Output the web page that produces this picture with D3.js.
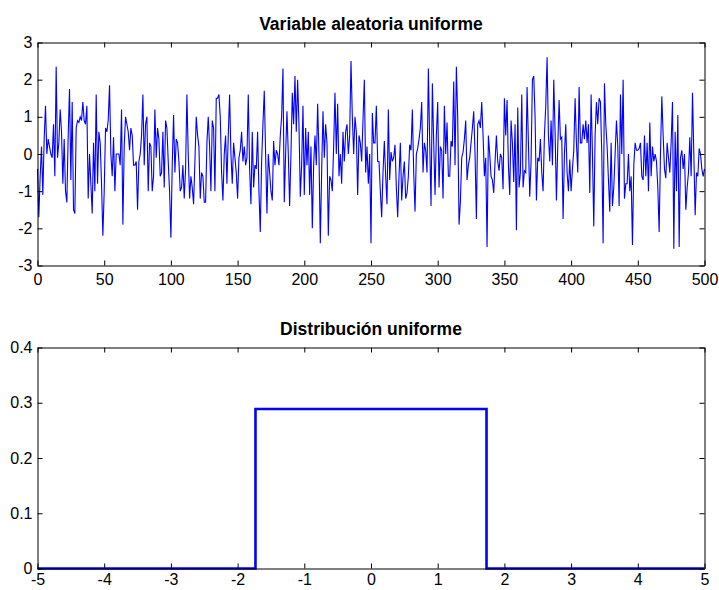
<!DOCTYPE html>
<html>
<head>
<meta charset="utf-8">
<script src="https://cdn.jsdelivr.net/npm/d3@7"></script>
<style>
  html, body { margin: 0; padding: 0; background: #fff; }
  svg { display: block; }
  text { font-family: "Liberation Sans", Arial, Helvetica, sans-serif; }
</style>
</head>
<body>
<svg id="chart" width="719" height="590"></svg>
<script>
// Samples of the uniform random variable (index 0..500)
const noise = [
-0.4,-1.7,-0.6,0.2,-1.1,0.4,1.3,0.0,0.4,0.2,0.0,-0.1,0.8,-0.6,2.35,-0.1,0.3,1.2,0.6,-0.8,
0.4,-1.0,-1.3,0.5,1.75,-0.7,1.4,-1.5,-1.6,0.7,0.9,0.85,1.0,0.9,1.4,0.9,0.8,1.3,-1.2,0.0,
-0.8,-1.6,0.3,-1.0,1.6,-0.8,0.6,0.3,-0.8,-2.2,-1.0,0.7,0.6,0.9,1.85,0.0,-0.6,0.45,-1.0,0.0,
0.0,0.0,-0.3,1.2,-1.9,0.2,1.0,0.8,0.6,0.1,0.7,0.5,-0.3,-0.3,-0.2,-1.5,-0.2,0.0,0.5,1.6,
-0.3,0.8,1.0,-1.0,0.3,0.2,-1.0,-0.6,1.2,-0.1,0.7,0.4,-0.6,-0.5,0.6,-0.9,0.9,0.7,-0.2,-1.0,
-2.25,-0.3,1.05,-0.5,0.4,0.3,-0.2,-1.0,-0.9,-0.3,-1.2,-0.4,1.6,0.0,-1.2,-0.6,-0.9,-1.35,-0.2,1.0,
0.5,0.2,-1.2,-0.5,-0.6,-1.3,-1.3,0.3,1.0,0.2,-1.0,0.9,0.7,-1.0,1.5,1.5,1.6,1.0,-0.5,-1.25,
0.0,0.5,-0.8,0.5,1.6,0.0,-0.8,0.3,-0.1,-0.5,-1.2,-0.1,0.1,0.6,-0.2,0.2,-0.3,-0.1,1.6,-0.4,
-1.35,0.6,-0.9,-0.3,-0.4,0.6,-1.0,-2.1,-0.2,0.8,1.7,0.0,-1.6,0.0,-0.5,-1.0,-1.25,0.35,-0.3,0.1,
0.0,-0.3,0.5,1.0,2.3,-1.3,0.0,1.15,0.0,-1.4,0.0,1.65,0.8,2.1,0.6,2.0,0.8,-1.15,-0.3,1.3,
-1.1,0.7,-0.3,0.6,-1.1,0.2,-2.0,-0.3,0.5,-0.3,1.35,0.0,-2.4,-0.5,1.15,-0.1,0.8,0.3,-2.2,-0.6,
-0.7,-1.0,0.2,1.65,0.0,1.35,-0.6,0.0,-0.8,0.6,-0.2,0.6,0.8,0.0,0.5,2.5,1.0,0.0,1.0,0.6,
-1.1,0.5,0.3,-0.2,0.9,2.0,-0.5,0.2,-0.8,0.0,-2.4,1.1,0.3,0.3,1.3,-0.2,-0.2,-1.0,-1.7,-0.5,
0.35,-0.6,-1.35,1.2,-0.7,0.05,-0.2,-0.1,0.25,-0.9,-1.7,-0.6,0.3,-1.25,-0.6,-0.2,-1.2,-1.05,-0.6,0.25,
0.1,1.2,-0.5,-1.55,0.0,0.15,0.4,0.7,1.4,-0.5,0.3,0.1,-0.5,2.3,0.3,-1.4,1.9,0.3,-1.1,0.5,
1.4,-0.9,0.2,0.1,-1.2,1.3,0.0,0.85,-0.6,-0.6,0.35,0.2,1.95,-0.3,2.35,1.0,-1.9,-1.3,-0.1,0.05,
0.4,0.9,-0.7,-0.3,-0.1,0.3,0.7,1.15,0.0,-1.75,0.8,0.9,0.7,1.4,0.5,-0.6,-0.1,-2.5,0.5,0.0,
-0.6,-0.7,-1.05,-0.2,0.5,-0.2,-0.45,0.0,-0.1,-0.95,1.5,0.5,1.45,-0.3,-1.1,0.9,0.3,-0.75,0.8,-2.05,
1.25,-0.9,-0.5,1.6,-0.9,-0.45,-0.5,1.8,0.3,-1.15,-0.2,2.0,2.1,1.0,-1.25,-0.1,-0.2,0.4,-0.5,-1.0,
0.5,1.3,2.6,0.5,-0.2,0.9,-0.3,2.0,0.6,-1.25,0.2,1.45,0.4,0.45,-1.75,0.0,0.8,-0.5,-1.0,-0.15,
-1.0,-0.4,0.1,1.5,0.3,-0.5,1.8,0.3,0.3,0.8,0.4,0.9,0.3,0.8,-1.05,1.6,0.0,-1.95,0.5,1.4,
0.8,1.5,1.4,0.0,-2.4,1.9,0.8,0.2,-0.7,-1.55,0.3,-1.4,-0.9,0.0,0.9,0.2,-1.4,1.6,0.0,2.0,
-1.2,-0.8,-0.8,0.0,-1.0,-0.6,-2.45,-0.3,0.3,0.1,0.1,0.15,0.3,-0.6,-0.7,0.5,-0.6,0.3,-1.0,0.85,
-0.6,0.2,-0.2,0.0,-0.2,-0.9,-2.1,0.0,1.55,0.5,-0.4,-0.65,0.3,-0.1,-0.5,0.3,1.4,-2.55,0.6,-1.0,
1.05,-2.5,-0.1,0.1,-0.4,0.0,-1.5,-0.9,-0.5,0.45,-0.6,1.65,0.0,-1.65,-0.5,-0.6,0.15,0.0,-0.4,-0.6,
-0.4
];

// Uniform density: height 1/(2*sqrt(3)) on [-sqrt(3), sqrt(3)]
const distX = [-5, -1.732, -1.732, 1.732, 1.732, 5];
const distY = [0, 0, 0.2887, 0.2887, 0, 0];

const topTitle = "Variable aleatoria uniforme";
const bottomTitle = "Distribución uniforme";
const topXTicks = [0, 50, 100, 150, 200, 250, 300, 350, 400, 450, 500];
const topYTicks = [-3, -2, -1, 0, 1, 2, 3];
const bottomXTicks = [-5, -4, -3, -2, -1, 0, 1, 2, 3, 4, 5];
const bottomYTicks = [0, 0.1, 0.2, 0.3, 0.4];

// plain hyphen for negative numbers
const intFmt = d => String(d);
const decFmt = d => d === 0 ? "0" : d.toFixed(1);

const svg = d3.select("#chart");

function panel(cfg) {
  const { left, right, top, bottom } = cfg.box;
  const x = d3.scaleLinear().domain(cfg.xDomain).range([left, right]);
  const y = d3.scaleLinear().domain(cfg.yDomain).range([bottom, top]);
  const g = svg.append("g");
  const tickLen = 5;

  // data line
  const line = d3.line().x(d => x(d[0])).y(d => y(d[1]));
  g.append("path")
    .datum(cfg.points)
    .attr("d", line)
    .attr("fill", "none")
    .attr("stroke", "#0000ff")
    .attr("stroke-width", cfg.lineWidth)
    .attr("stroke-linejoin", "miter");

  // axes: ticks inward on all four sides
  const axB = d3.axisBottom(x).tickValues(cfg.xTicks).tickSizeInner(-tickLen).tickSizeOuter(0)
    .tickPadding(cfg.xPad).tickFormat(cfg.xFormat);
  const axT = d3.axisTop(x).tickValues(cfg.xTicks).tickSizeInner(-tickLen).tickSizeOuter(0).tickFormat("");
  const axL = d3.axisLeft(y).tickValues(cfg.yTicks).tickSizeInner(-tickLen).tickSizeOuter(0).tickPadding(5)
    .tickFormat(cfg.yFormat);
  const axR = d3.axisRight(y).tickValues(cfg.yTicks).tickSizeInner(-tickLen).tickSizeOuter(0).tickFormat("");

  [[axB, `translate(0,${bottom})`], [axT, `translate(0,${top})`],
   [axL, `translate(${left},0)`], [axR, `translate(${right},0)`]].forEach(([ax, tr]) => {
    const a = g.append("g").attr("transform", tr).call(ax);
    a.select(".domain").attr("stroke", "#000").attr("stroke-width", 1);
    a.selectAll(".tick line").attr("stroke", "#000").attr("stroke-width", 1);
    a.selectAll(".tick text").attr("fill", "#000").attr("font-size", 16);
  });

  g.append("text")
    .attr("x", (left + right) / 2)
    .attr("y", top - 13)
    .attr("text-anchor", "middle")
    .attr("font-size", 17.5)
    .attr("font-weight", "bold")
    .attr("fill", "#000")
    .text(cfg.title);
}

panel({
  box: { left: 37.5, right: 704.5, top: 42.5, bottom: 265.5 },
  xDomain: [0, 500], yDomain: [-3, 3],
  xTicks: topXTicks, yTicks: topYTicks,
  xFormat: intFmt, yFormat: intFmt, xPad: 8,
  points: noise.map((v, i) => [i, v]),
  lineWidth: 1.1,
  title: topTitle
});

panel({
  box: { left: 37.5, right: 704.5, top: 347.5, bottom: 568.5 },
  xDomain: [-5, 5], yDomain: [0, 0.4],
  xTicks: bottomXTicks, yTicks: bottomYTicks,
  xFormat: intFmt, yFormat: decFmt, xPad: 5,
  points: distX.map((v, i) => [v, distY[i]]),
  lineWidth: 2.6,
  title: bottomTitle
});
</script>
</body>
</html>
